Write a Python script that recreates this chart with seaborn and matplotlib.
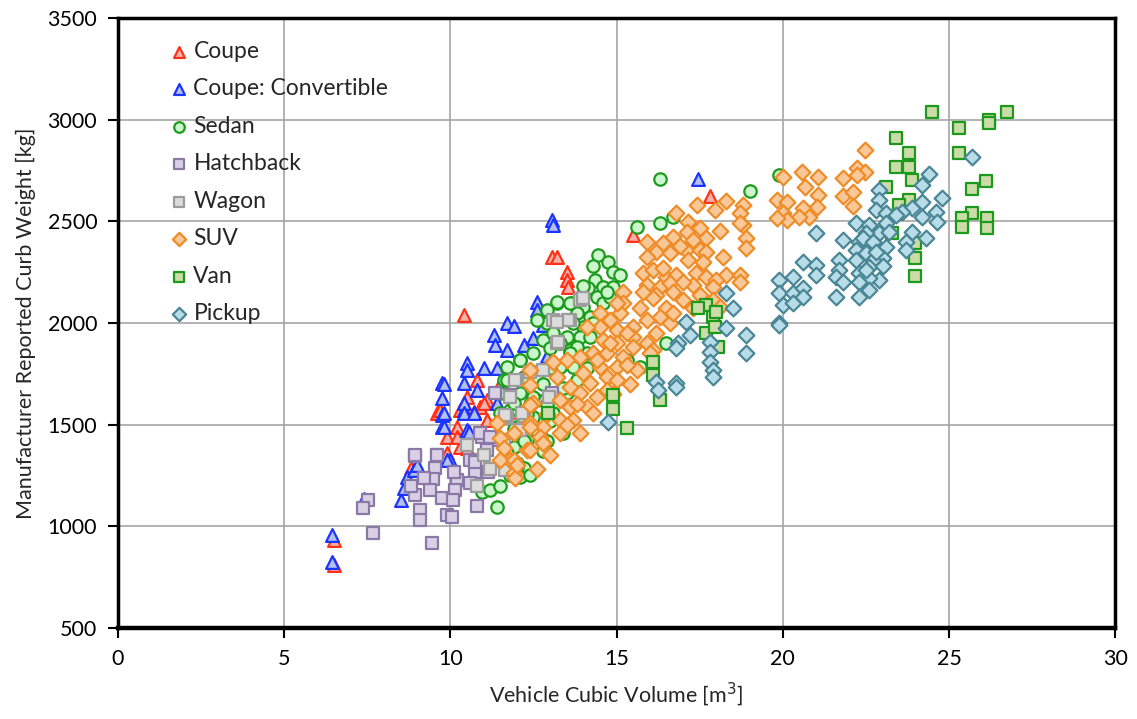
import matplotlib
matplotlib.use('Agg')
import pandas as pd
import matplotlib.pyplot as plt
import seaborn as sns

sns.set_style('white')
plt.rcParams['font.family'] = ['Lato', 'DejaVu Sans']

# 数据: 每类车型的体积 (m3) 和整备质量 (kg)
coupe_x = [6.5, 6.5, 10.4, 13.05, 13.2, 13.5, 13.5, 13.55, 15.5, 17.8,
           10.8, 10.5, 10.9, 10.3, 9.6, 11.1, 10.2, 9.9, 10.3, 11.1,
           9.7, 10.5, 10.2, 10.7, 11.0, 9.9, 8.8, 11.5, 12.3, 11.8, 12.1, 12.5]
coupe_y = [810, 933, 2040, 2325, 2325, 2250, 2212, 2177, 2433, 2625,
           1720, 1636, 1587, 1572, 1557, 1523, 1489, 1439, 1390, 1621,
           1572, 1385, 1439, 1562, 1606, 1361, 1287, 1700, 1680, 1560, 1480, 1750]

conv_x = [6.45, 6.45, 7.4, 8.5, 8.6, 8.7, 8.9, 10.0, 9.75, 9.75, 10.4, 10.5, 10.7, 11.4,
          12.6, 11.7, 11.9, 11.3, 11.35, 11.7, 12.2, 10.5, 10.5, 11.0, 11.4, 9.75, 10.4,
          10.8, 9.75, 10.4, 9.8, 10.4, 10.7, 9.8, 10.55, 9.9, 12.6, 12.5, 13.05, 13.1,
          17.45, 12.8, 12.9, 9.8, 9.0]
conv_y = [957, 825, 1135, 1130, 1188, 1243, 1277, 1326, 1489, 1548, 1572, 1474, 1557, 1606,
          2103, 2000, 1985, 1941, 1892, 1867, 1892, 1803, 1769, 1779, 1779, 1705, 1705,
          1670, 1631, 1606, 1557, 1557, 1557, 1489, 1464, 1326, 2064, 1926, 2507, 2482,
          2710, 1990, 1840, 1700, 1300]

sedan_x = [14.45, 14.75, 14.9, 15.1, 14.35, 14.6, 14.9, 14.15, 14.4, 13.2, 13.65, 14.0, 14.6,
           13.8, 14.2, 14.0, 13.7, 12.9, 13.5, 13.9, 14.2, 12.8, 13.0, 13.6, 14.1, 12.5,
           12.1, 13.3, 13.7, 14.1, 11.7, 11.6, 12.5, 13.8, 12.1, 13.5, 12.6, 13.1, 12.5,
           12.0, 11.8, 12.7, 12.3, 11.9, 11.7, 12.0, 12.2, 15.3, 15.7, 16.5,
           13.2, 13.6, 12.6, 12.9, 12.1, 11.7, 11.5, 11.9, 11.5, 12.5, 12.6, 12.2,
           11.4, 10.95, 11.2, 12.0, 12.1, 11.6, 12.4,
           15.6, 16.3, 16.3, 16.7, 19.0, 19.9, 14.3, 14.8, 13.4, 12.8, 13.0,
           12.3, 12.8, 13.3, 13.0, 12.4, 11.9, 12.9, 13.4, 13.8, 14.3, 13.1, 12.2,
           11.6, 11.8, 12.6, 14.0, 14.7, 13.6, 11.5, 12.9]
sedan_y = [2334, 2300, 2251, 2236, 2212, 2177, 2177, 2172, 2128, 2098, 2098, 2079, 2098,
           2049, 2030, 1980, 2000, 2000, 1931, 1931, 1931, 1916, 1877, 1867, 1852, 1852,
           1818, 1784, 1784, 1779, 1784, 1720, 1720, 1720, 1656, 1656, 1621, 1557, 1538,
           1489, 1572, 1459, 1425, 1390, 1361, 1311, 1287, 1818, 1784, 1902,
           2103, 2098, 2015, 2064, 1818, 1720, 1656, 1606, 1557, 1636, 1720, 1734,
           1095, 1169, 1178, 1292, 1243, 1311, 1252,
           2470, 2710, 2492, 2521, 2650, 2730, 2280, 2130, 1460, 1370, 1520,
           1550, 1700, 1900, 1780, 1600, 1480, 1600, 1680, 1880, 2000, 1950, 1420,
           1300, 1250, 1470, 2180, 2150, 1850, 1200, 1420]

hatch_x = [7.52, 7.37, 7.67, 9.45, 8.94, 9.6, 9.54, 9.48, 9.39, 8.94, 9.09, 9.09, 9.75,
           9.9, 10.05, 10.2, 10.14, 10.08, 10.74, 10.6, 10.6, 10.8, 11.13, 10.95, 11.3,
           11.35, 11.8, 13.05, 10.9, 11.2, 11.1, 9.6, 8.94, 10.75, 10.1, 8.8, 9.2]
hatch_y = [1130, 1090, 967, 918, 1346, 1351, 1287, 1233, 1178, 1154, 1080, 1031, 1139,
           1056, 1046, 1228, 1178, 1130, 1267, 1326, 1213, 1100, 1267, 1439, 1425,
           1656, 1646, 1656, 1459, 1439, 1375, 1351, 1351, 1316, 1267, 1200, 1240]

wagon_x = [13.9, 13.1, 13.6, 14.0, 13.54, 13.2, 13.2, 12.8, 12.0, 12.97, 11.8, 12.2, 11.7,
           12.2, 13.24, 11.95, 11.65, 11.6, 11.65, 12.15, 12.1, 11.65, 10.5, 11.0,
           10.8, 11.2, 12.4]
wagon_y = [2113, 2015, 2015, 2123, 2015, 2005, 1902, 1769, 1720, 1636, 1636, 1557, 1533,
           1484, 1907, 1720, 1538, 1425, 1548, 1557, 1474, 1277, 1400, 1350,
           1200, 1280, 1760]

suv_x = [22.48, 20.58, 21.07, 21.82, 22.24, 22.48, 22.24, 20.67, 21.07, 21.82, 22.1, 21.03,
         22.1, 20.0, 19.83, 20.13, 20.0, 20.6, 20.8, 20.5, 20.13, 19.83,
         17.42, 17.97, 18.3, 18.8, 18.7, 18.8, 18.9, 18.9, 18.7, 16.8, 17.15, 17.5, 17.12,
         17.7, 17.3, 16.7, 15.92, 16.4, 16.2, 16.6, 17.1, 15.92, 17.5, 17.7, 18.2, 17.15,
         15.8, 16.1, 16.5, 16.8, 17.4, 17.7, 18.3, 18.7, 18.7, 18.0, 15.9, 16.3, 16.6,
         16.2, 16.7, 17.3, 17.5, 17.9, 15.2, 15.7, 16.5, 16.1, 17.0, 17.3, 17.9, 18.1,
         15.2, 14.5, 15.1, 14.8, 15.9, 16.3, 16.6, 15.5, 16.2, 14.5, 15.0, 14.1, 14.6,
         15.0, 15.5, 15.9, 16.1, 15.5, 14.3, 14.7, 15.2, 13.9, 13.5, 13.1, 14.5, 15.0,
         15.6, 15.3, 14.0, 14.7, 15.0, 14.2, 13.6, 13.2, 12.4, 12.4, 13.9, 14.4, 14.7,
         13.3, 14.1, 13.6, 14.3, 13.7, 13.3, 12.8, 12.4, 12.5, 13.9, 13.3, 12.8, 12.3,
         11.9, 11.8, 11.9, 11.4, 11.5, 11.6, 11.5, 11.9, 11.95, 12.4, 12.7, 12.4, 12.8,
         12.4, 14.8, 15.3, 15.8, 16.4, 17.6, 16.0, 14.9, 15.4, 13.8, 13.5, 12.9, 12.0,
         13.0, 14.4, 16.9, 18.1, 15.0, 16.7, 17.0, 12.6]
suv_y = [2851, 2743, 2718, 2713, 2762, 2743, 2728, 2669, 2630, 2625, 2645, 2571,
         2576, 2718, 2605, 2595, 2541, 2566, 2521, 2521, 2507, 2516,
         2580, 2556, 2600, 2580, 2541, 2482, 2418, 2369, 2492, 2541, 2497, 2467, 2448,
         2418, 2408, 2423, 2398, 2393, 2349, 2344, 2359, 2325, 2359, 2349, 2325, 2310,
         2246, 2261, 2226, 2236, 2246, 2226, 2236, 2236, 2202, 2212, 2187, 2177, 2197,
         2138, 2152, 2187, 2138, 2177, 2152, 2074, 2074, 2123, 2113, 2074, 2113, 2079,
         2098, 2049, 2049, 2015, 2015, 2030, 2000, 1980, 1951, 1980, 1966, 1980, 1916,
         1902, 1931, 1902, 1867, 1882, 1852, 1852, 1833, 1833, 1818, 1808, 1784, 1784,
         1769, 1794, 1754, 1734, 1720, 1705, 1685, 1734, 1769, 1695, 1656, 1636, 1670,
         1621, 1587, 1587, 1557, 1523, 1523, 1489, 1508, 1606, 1459, 1459, 1410, 1375,
         1459, 1326, 1262, 1508, 1434, 1385, 1326, 1326, 1238, 1489, 1439, 1375, 1410,
         1597, 1900, 1950, 2150, 2270, 2300, 1850, 1650, 1700, 1600, 1500, 1550, 1300,
         1350, 1820, 2380, 2450, 2100, 2050, 2200, 1280]

van_x = [15.3, 14.9, 14.9, 16.3, 16.1, 16.1, 12.95, 17.7, 17.45, 17.9, 18.0, 17.7,
         18.05, 17.97, 24.5, 26.75, 26.2, 26.2, 25.3, 25.3, 23.4, 23.8, 23.8, 23.4, 23.9,
         23.1, 26.1, 25.7, 23.8, 23.5, 25.7, 25.4, 26.15, 25.4, 26.15, 23.3, 23.98,
         23.98, 23.98]
van_y = [1484, 1577, 1646, 1621, 1808, 1744, 1557, 2089, 2074, 2030, 2054, 1951,
         1882, 1980, 3038, 3038, 2998, 2984, 2959, 2836, 2910, 2836, 2767, 2767, 2703,
         2669, 2698, 2659, 2605, 2580, 2541, 2516, 2516, 2472, 2467, 2443, 2393,
         2320, 2231]

pickup_x = [18.3, 18.5, 19.9, 18.9, 18.9, 18.3, 17.8, 17.8, 17.8, 17.9, 17.9, 17.1, 17.2,
            16.85, 16.8, 16.2, 16.25, 16.8, 16.8, 14.75, 19.9, 20.3, 19.9, 20.3, 20.0,
            20.3, 25.7, 24.4, 24.2, 24.8, 24.2, 24.6, 24.65, 24.2, 23.9, 23.6, 24.3, 23.9,
            23.7, 23.7, 22.9, 22.9, 22.8, 23.1, 23.1, 22.2, 22.6, 22.9, 22.5, 22.3, 22.8,
            23.1, 22.2, 22.5, 23.0, 22.7, 22.2, 22.6, 22.3, 22.9, 22.6, 22.3, 22.6, 22.3,
            21.7, 21.8, 21.7, 21.6, 21.8, 21.6, 21.0, 20.6, 21.0, 21.0, 20.6, 20.6, 19.9,
            23.4, 23.2, 22.4, 22.7, 23.0, 22.5, 22.8]
pickup_y = [2148, 2074, 2000, 1941, 1852, 1975, 1907, 1857, 1808, 1769, 1734, 2005, 1941,
            1902, 1877, 1710, 1670, 1705, 1685, 1513, 2212, 2226, 2148, 2148, 2089,
            2098, 2816, 2733, 2679, 2615, 2595, 2546, 2497, 2521, 2566, 2546, 2418, 2448,
            2398, 2359, 2654, 2605, 2556, 2541, 2492, 2492, 2482, 2443, 2443, 2398, 2384,
            2374, 2359, 2344, 2320, 2310, 2310, 2275, 2246, 2212, 2221, 2202, 2162, 2128,
            2310, 2408, 2261, 2226, 2202, 2128, 2443, 2300, 2285, 2236, 2172, 2128, 1990,
            2531, 2448, 2420, 2400, 2280, 2260, 2350]

series = [
    ('Coupe', coupe_x, coupe_y, '^', '#f4b4ac', '#ff3218', 85),
    ('Coupe: Convertible', conv_x, conv_y, '^', '#b4c0ee', '#1c34ff', 85),
    ('Sedan', sedan_x, sedan_y, 'o', '#ccf6cc', '#1c9c1c', 80),
    ('Hatchback', hatch_x, hatch_y, 's', '#d9d0e5', '#8a78a6', 75),
    ('Wagon', wagon_x, wagon_y, 's', '#dcdcdc', '#9c9c9c', 75),
    ('SUV', suv_x, suv_y, 'D', '#f9c898', '#f08c28', 64),
    ('Van', van_x, van_y, 's', '#cbdca8', '#1c9a1c', 75),
    ('Pickup', pickup_x, pickup_y, 'D', '#b8dde8', '#4a8696', 64),
]

fig = plt.figure(figsize=(11.37, 7.19), dpi=100)
ax = fig.add_axes([0.1038, 0.1266, 0.877, 0.8484])

for name, xs, ys, mk, fc, ec, size in series:
    df = pd.DataFrame({'vol': xs, 'mass': ys})
    sns.scatterplot(data=df, x='vol', y='mass', marker=mk, color=fc, edgecolor=ec,
                    linewidth=1.6, s=size, label=name, ax=ax, zorder=3)

ax.set_xlim(0, 30)
ax.set_ylim(500, 3500)
ax.set_xticks(range(0, 31, 5))
ax.set_yticks(range(500, 3501, 500))
ax.grid(True, color='#a6a6a6', linewidth=1.2)
ax.set_axisbelow(True)
for sp in ax.spines.values():
    sp.set_color('black')
    sp.set_linewidth(2.5)
ax.spines['bottom'].set_linewidth(3.2)
ax.tick_params(axis='both', direction='out', length=7, width=1.5, labelsize=15.5,
               colors='black', bottom=True, left=True, pad=8)

ax.set_xlabel('Vehicle Cubic Volume [m$^3$]', fontsize=15.5, labelpad=8)
ax.set_ylabel('Manufacturer Reported Curb Weight [kg]', fontsize=15.5, labelpad=8)

leg = ax.legend(loc='upper left', bbox_to_anchor=(0.04, 0.978), frameon=False,
                fontsize=16.5, labelspacing=0.72, handletextpad=0.15,
                handlelength=1.0, markerscale=0.85, borderaxespad=0)

plt.savefig('out.png', dpi=100)
